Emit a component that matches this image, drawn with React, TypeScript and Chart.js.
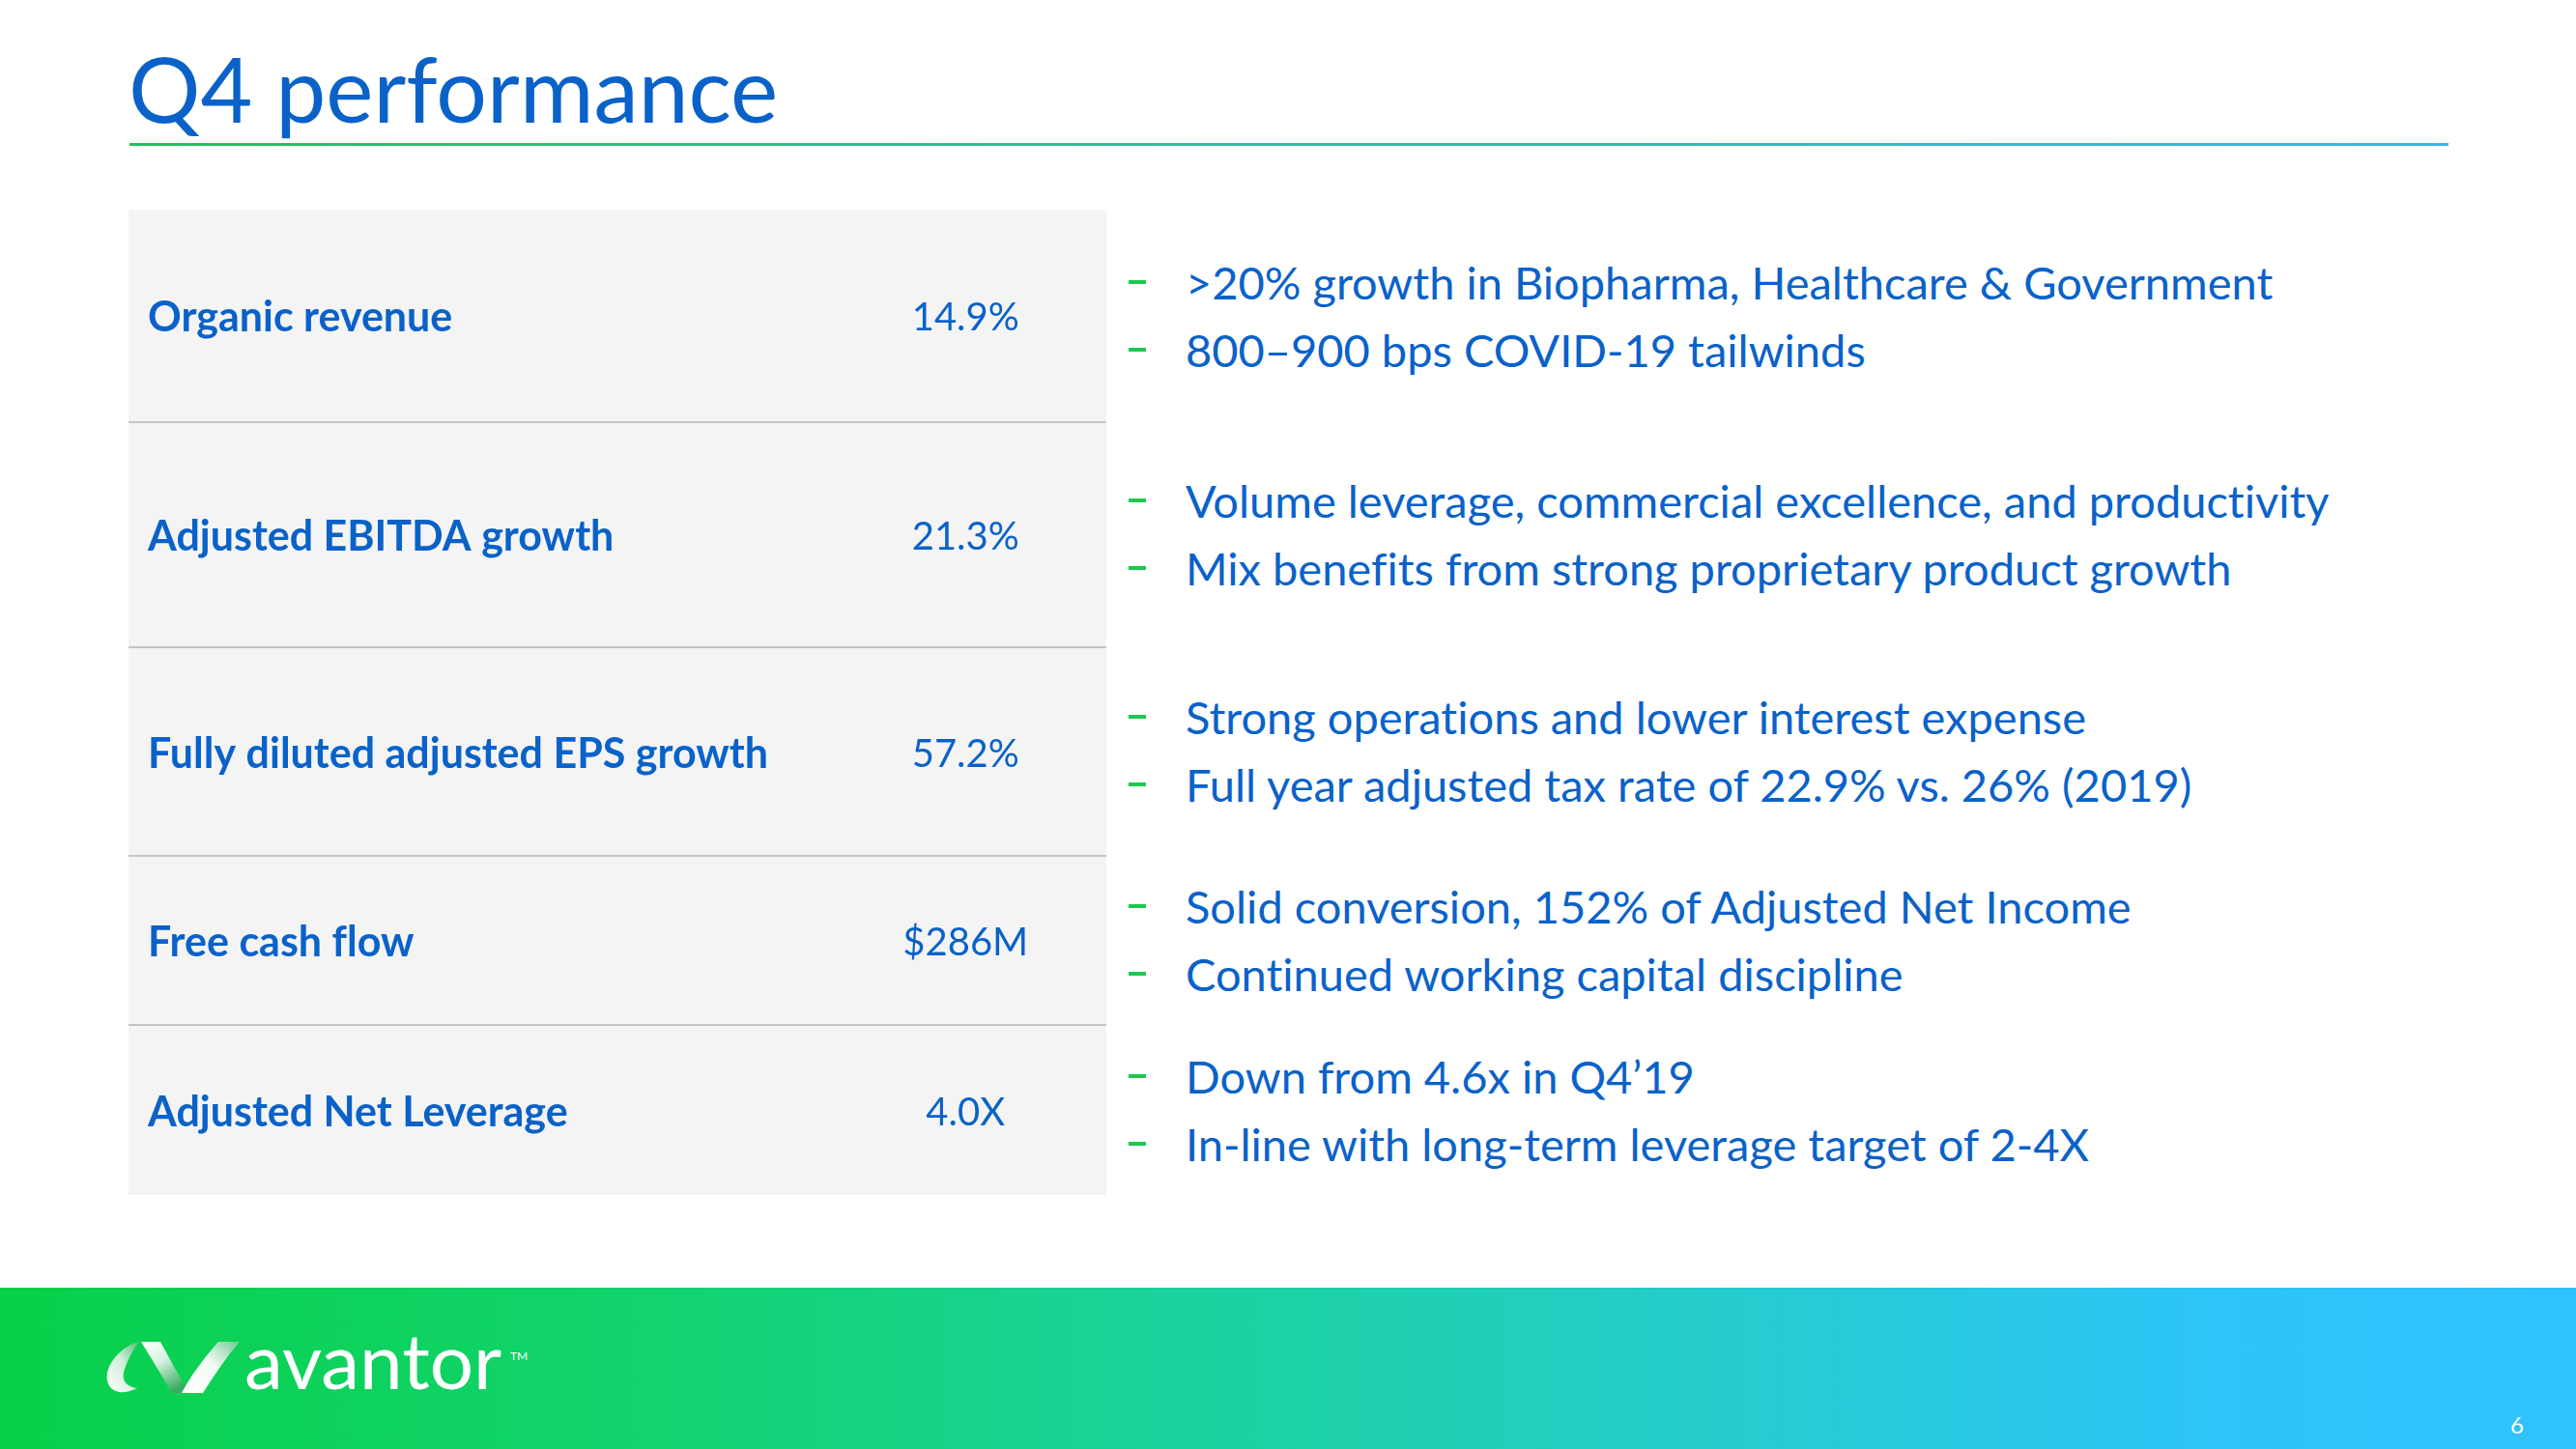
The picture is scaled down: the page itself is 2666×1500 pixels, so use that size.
import React, { useEffect, useRef } from "react";
import { Chart, registerables } from "chart.js";

Chart.register(...registerables);

// ---- data ----
const metrics = [
  "Organic revenue",
  "Adjusted EBITDA growth",
  "Fully diluted adjusted EPS growth",
  "Free cash flow",
  "Adjusted Net Leverage",
];
const metricValues = ["14.9%", "21.3%", "57.2%", "$286M", "4.0X"];
const commentaryFirst = [
  ">20% growth in Biopharma, Healthcare & Government",
  "Volume leverage, commercial excellence, and productivity",
  "Strong operations and lower interest expense",
  "Solid conversion, 152% of Adjusted Net Income",
  "Down from 4.6x in Q4\u201919",
];
const commentarySecond = [
  "800\u2013900 bps COVID-19 tailwinds",
  "Mix benefits from strong proprietary product growth",
  "Full year adjusted tax rate of 22.9% vs. 26% (2019)",
  "Continued working capital discipline",
  "In-line with long-term leverage target of 2-4X",
];

// ---- layout / style ----
const BLUE = "#0A62C9";
const GREEN = "#1DC94F";
const CELL_BG = "#F4F4F4";
const SEP = "#C4C4C4";
const FONT = "Lato, 'Noto Sans', sans-serif";
const TABLE_LEFT = 133;
const TABLE_TOP = 217;
const TABLE_W = 1012;
const ROW_LAYOUT_HEIGHTS = [219, 233, 216, 175, 177];
const LABEL_INSET = 20;
const TEXT_NUDGE = 3;
const VALUE_COLUMN_CENTER = 0.856; // fraction of the cell width

function MetricCell({ index, height, withBorder }: { index: number; height: number; withBorder: boolean }) {
  const ref = useRef<HTMLCanvasElement>(null);
  const innerH = height - (withBorder ? 2 : 0);

  useEffect(() => {
    const canvas = ref.current;
    if (!canvas) return;
    const textPlugin = {
      id: "metricText",
      afterDatasetsDraw(chart: any) {
        const { ctx, scales, chartArea } = chart;
        const y = scales.y.getPixelForValue(0) + TEXT_NUDGE;
        ctx.save();
        ctx.fillStyle = BLUE;
        ctx.textBaseline = "middle";
        ctx.font = `700 43px ${FONT}`;
        ctx.textAlign = "left";
        ctx.fillText(chart.data.labels[0], chartArea.left + LABEL_INSET, y);
        ctx.font = `400 40px ${FONT}`;
        ctx.textAlign = "center";
        ctx.fillText(metricValues[index], scales.x.getPixelForValue(VALUE_COLUMN_CENTER), y);
        ctx.restore();
      },
    };
    const chart = new Chart(canvas, {
      type: "bar",
      data: {
        labels: [metrics[index]],
        datasets: [
          {
            data: [1],
            backgroundColor: CELL_BG,
            borderWidth: 0,
            barPercentage: 1,
            categoryPercentage: 1,
          },
        ],
      },
      options: {
        indexAxis: "y",
        animation: false,
        responsive: false,
        maintainAspectRatio: false,
        devicePixelRatio: 1,
        layout: { padding: 0 },
        events: [],
        plugins: {
          legend: { display: false },
          tooltip: { enabled: false },
          title: { display: false },
        },
        scales: {
          x: { display: false, min: 0, max: 1 },
          y: { display: false },
        },
      } as any,
      plugins: [textPlugin],
    });
    return () => chart.destroy();
  }, [index, innerH]);

  return (
    <div
      style={{
        position: "absolute",
        left: TABLE_LEFT,
        top: 0,
        width: TABLE_W,
        height,
        boxSizing: "border-box",
        borderTop: withBorder ? `2px solid ${SEP}` : "none",
      }}
    >
      <canvas ref={ref} width={TABLE_W} height={innerH} style={{ display: "block", width: TABLE_W, height: innerH }} />
    </div>
  );
}

function BulletLine({ text }: { text: string }) {
  return (
    <div style={{ position: "relative", height: 70, lineHeight: "70px", whiteSpace: "nowrap" }}>
      <div style={{ position: "absolute", left: 1, top: 33, width: 18, height: 4, background: GREEN }} />
      <span style={{ position: "absolute", left: 60, top: 0 }}>{text}</span>
    </div>
  );
}

function Logo() {
  return (
    <div style={{ position: "absolute", left: 100, top: 1375 }}>
      <svg width="160" height="80" viewBox="0 0 160 80" style={{ position: "absolute", left: 0, top: 0 }}>
        <defs>
          <linearGradient id="gA" x1="1" y1="0" x2="0" y2="1">
            <stop offset="0" stopColor="#4cbd73" />
            <stop offset="0.45" stopColor="#cfeed9" />
            <stop offset="1" stopColor="#ffffff" />
          </linearGradient>
          <linearGradient id="gB" x1="0" y1="0" x2="0.6" y2="1">
            <stop offset="0" stopColor="#ffffff" />
            <stop offset="0.45" stopColor="#d9f2e1" />
            <stop offset="1" stopColor="#36ad5f" />
          </linearGradient>
          <linearGradient id="gC" x1="0" y1="1" x2="1" y2="0">
            <stop offset="0" stopColor="#ffffff" />
            <stop offset="0.55" stopColor="#f0fbf3" />
            <stop offset="1" stopColor="#6fcb8e" />
          </linearGradient>
        </defs>
        <path
          d="M 44 14 C 26 18, 8 38, 11 54 C 13 66, 26 70, 42 62 C 32 61, 26 55, 28 46 C 31 34, 38 22, 44 14 Z"
          fill="url(#gA)"
        />
        <path d="M 46 14 L 66 14 C 76 32, 86 52, 97 67 L 78 67 C 68 50, 56 30, 46 14 Z" fill="url(#gB)" />
        <path d="M 88 67 L 110 67 C 122 48, 134 30, 148 14 L 126 14 C 112 30, 98 48, 88 67 Z" fill="url(#gC)" />
      </svg>
      <div
        style={{
          position: "absolute",
          left: 153,
          top: -8,
          fontFamily: FONT,
          fontSize: 80,
          lineHeight: "80px",
          color: "#ffffff",
          whiteSpace: "nowrap",
        }}
      >
        avantor
      </div>
      <div style={{ position: "absolute", left: 428, top: 21, fontFamily: FONT, fontSize: 12, color: "#ffffff" }}>TM</div>
    </div>
  );
}

export default function App() {
  useEffect(() => {
    document.body.style.margin = "0";
  }, []);

  let acc = TABLE_TOP;
  const tops = ROW_LAYOUT_HEIGHTS.map((h) => {
    const t = acc;
    acc += h;
    return t;
  });

  return (
    <div
      style={{
        position: "absolute",
        left: 0,
        top: 0,
        width: 2666,
        height: 1500,
        overflow: "hidden",
        background: "#ffffff",
        fontFamily: FONT,
        fontVariantLigatures: "none",
      }}
    >
      {/* title */}
      <div
        style={{
          position: "absolute",
          left: 133,
          top: 45,
          fontSize: 93,
          lineHeight: "93px",
          color: BLUE,
          whiteSpace: "nowrap",
        }}
      >
        Q4 performance
      </div>
      <div
        style={{
          position: "absolute",
          left: 134,
          top: 148,
          width: 2400,
          height: 3,
          background: "linear-gradient(90deg, #22C25A 0%, #2EBE8E 35%, #3BB7E2 100%)",
        }}
      />

      {/* table rows + commentary */}
      {metrics.map((m, i) => (
        <div key={m} style={{ position: "absolute", left: 0, top: tops[i], width: 2666, height: ROW_LAYOUT_HEIGHTS[i] }}>
          <MetricCell index={i} height={ROW_LAYOUT_HEIGHTS[i]} withBorder={i > 0} />
          <div
            style={{
              position: "absolute",
              left: 1167,
              top: 0,
              width: 1400,
              height: ROW_LAYOUT_HEIGHTS[i],
              display: "flex",
              flexDirection: "column",
              justifyContent: "center",
              color: BLUE,
              fontSize: 47,
            }}
          >
            <BulletLine text={commentaryFirst[i]} />
            <BulletLine text={commentarySecond[i]} />
          </div>
        </div>
      ))}

      {/* footer */}
      <div
        style={{
          position: "absolute",
          left: 0,
          top: 1333,
          width: 2666,
          height: 167,
          background:
            "linear-gradient(90deg, #08D049 0%, #12D36E 25%, #1CD2A2 48%, #25CCD0 68%, #2DC4F6 85%, #30C2FF 100%)",
        }}
      />
      <Logo />
      <div
        style={{
          position: "absolute",
          left: 2598,
          top: 1460,
          fontSize: 24,
          lineHeight: "30px",
          color: "#ffffff",
        }}
      >
        6
      </div>
    </div>
  );
}
